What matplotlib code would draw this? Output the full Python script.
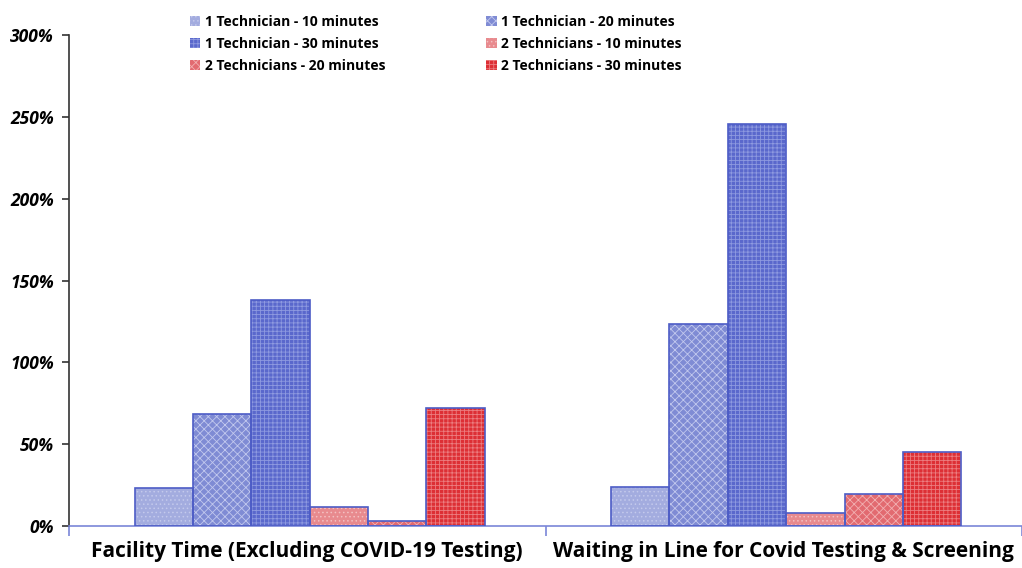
import matplotlib
matplotlib.use("Agg")
import matplotlib.pyplot as plt
import numpy as np
from matplotlib.patches import Patch

categories = ["Facility Time (Excluding COVID-19 Testing)",
              "Waiting in Line for Covid Testing & Screening"]
series = ["1 Technician - 10 minutes", "1 Technician - 20 minutes",
          "1 Technician - 30 minutes", "2 Technicians - 10 minutes",
          "2 Technicians - 20 minutes", "2 Technicians - 30 minutes"]
values = [
    [23.4, 24.0],
    [68.2, 123.2],
    [138.0, 245.4],
    [11.8, 8.1],
    [3.2, 19.5],
    [71.9, 45.0],
]
yticks = [0, 50, 100, 150, 200, 250, 300]
ytick_labels = ["0%", "50%", "100%", "150%", "200%", "250%", "300%"]

face_colors = ["#a3acdf", "#7f8bd4", "#5a68cc", "#e88a8e", "#e26a70", "#dd2f35"]
hatch_colors = ["#c3c9ec", "#c2c8ee", "#8e9ae0", "#f3c0c2", "#f2b0b2", "#ec7d80"]
hatches = ["....", "xxxx", "++++", "....", "xxxx", "++++"]
edge_color = "#4d5cc6"

plt.rcParams['font.family'] = ['Open Sans', 'DejaVu Sans']
plt.rcParams['hatch.linewidth'] = 0.6

fig = plt.figure(figsize=(10.22, 5.68), dpi=100)
ax = fig.add_axes([69/1022, 42/568, 1 - 69/1022, (526-35)/568])

x = np.arange(len(categories))
n = len(series)
width = 0.1225
for i in range(n):
    pos = x + (i - (n - 1) / 2) * width + 0.005
    ax.bar(pos, values[i], width, color=face_colors[i], hatch=hatches[i],
           edgecolor=hatch_colors[i], linewidth=0, zorder=2)
    ax.bar(pos, values[i], width, facecolor="none", edgecolor=edge_color,
           linewidth=1.2, zorder=3)

ax.set_xlim(-0.5, 1.5)
ax.set_ylim(0, 300)
ax.set_yticks(yticks)
ax.set_yticklabels(ytick_labels, fontsize=12.5, fontweight='bold', style='italic')
ax.tick_params(axis='y', direction='out', length=5, width=1.2, color='#333333', pad=6)

ax.set_xticks([-0.5, 0.5, 1.5])
ax.set_xticklabels([])
ax.tick_params(axis='x', which='major', direction='out', length=7, width=1.2, color='#7a86d8')
ax.set_xticks(x, minor=True)
ax.set_xticklabels(categories, minor=True, fontsize=15, fontweight='bold')
ax.tick_params(axis='x', which='minor', length=0, pad=11)

for s in ['top', 'right']:
    ax.spines[s].set_visible(False)
ax.spines['left'].set_color('#333333')
ax.spines['left'].set_linewidth(1.2)
ax.spines['bottom'].set_color('#7a86d8')
ax.spines['bottom'].set_linewidth(1.2)

leg_handles = [Patch(facecolor=face_colors[i], hatch=hatches[i], edgecolor=hatch_colors[i],
                     linewidth=0) for i in range(n)]
order = [0, 2, 4, 1, 3, 5]
leg = fig.legend([leg_handles[i] for i in order], [series[i] for i in order],
                 ncol=2, loc='upper left', bbox_to_anchor=(183/1022, 1 - 8/568),
                 frameon=False, prop={'weight': 'bold', 'size': 10},
                 handlelength=0.75, handleheight=0.75, handletextpad=0.3,
                 columnspacing=7.3, labelspacing=0.56, borderpad=0)

fig.savefig("out.png", dpi=100)
